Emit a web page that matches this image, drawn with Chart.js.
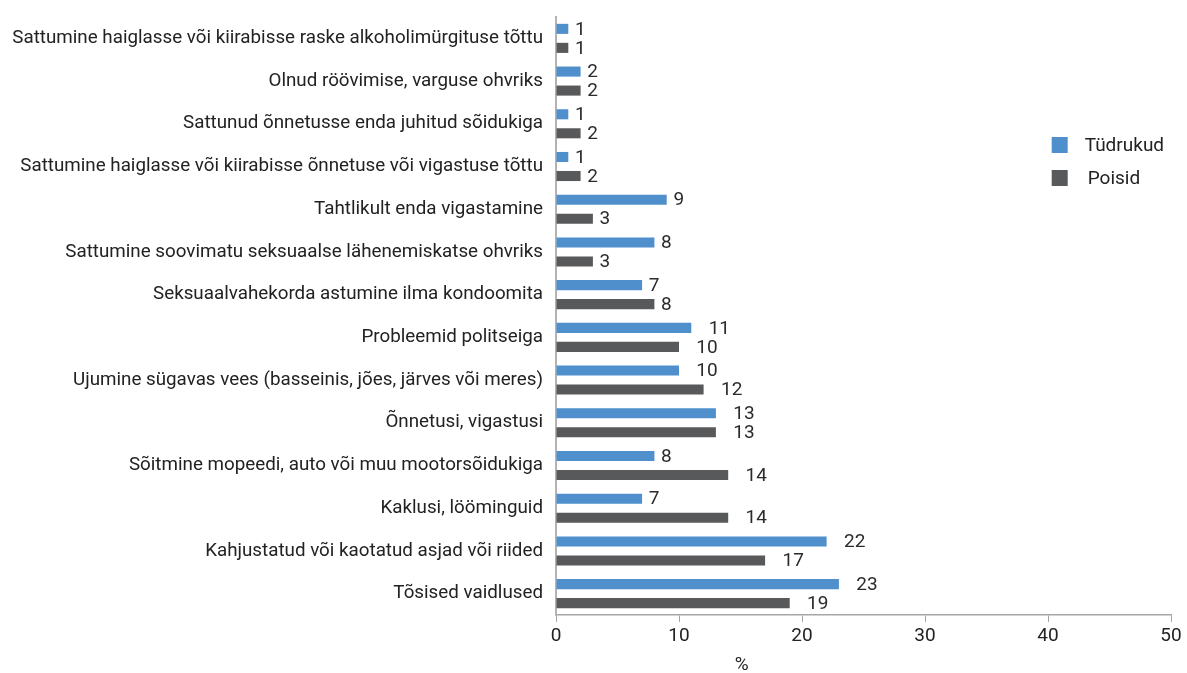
<!DOCTYPE html>
<html>
<head>
<meta charset="utf-8">
<script src="https://cdn.jsdelivr.net/npm/chart.js@4"></script>
<style>
  html, body { margin: 0; padding: 0; background: #fff; }
  #wrap { width: 1187px; height: 673px; position: relative; }
</style>
</head>
<body>
<div id="wrap"><canvas id="graph"></canvas></div>
<script>
var categories = [
    'Sattumine haiglasse või kiirabisse raske alkoholimürgituse tõttu',
    'Olnud röövimise, varguse ohvriks',
    'Sattunud õnnetusse enda juhitud sõidukiga',
    'Sattumine haiglasse või kiirabisse õnnetuse või vigastuse tõttu',
    'Tahtlikult enda vigastamine',
    'Sattumine soovimatu seksuaalse lähenemiskatse ohvriks',
    'Seksuaalvahekorda astumine ilma kondoomita',
    'Probleemid politseiga',
    'Ujumine sügavas vees (basseinis, jões, järves või meres)',
    'Õnnetusi, vigastusi',
    'Sõitmine mopeedi, auto või muu mootorsõidukiga',
    'Kaklusi, lööminguid',
    'Kahjustatud või kaotatud asjad või riided',
    'Tõsised vaidlused'
];
var girls = [1, 2, 1, 1, 9, 8, 7, 11, 10, 13, 8, 7, 22, 23];
var boys  = [1, 2, 2, 2, 3, 3, 8, 10, 12, 13, 14, 14, 17, 19];
var seriesNames = ['Tüdrukud', 'Poisid'];
var xTicks = [0, 10, 20, 30, 40, 50];
var axisTitle = '%';

var FONT = 'Roboto, "Noto Sans", sans-serif';
var BLUE = '#4f8fcc';
var GRAY = '#58595b';

// value labels at the end of each bar
var valueLabels = {
    id: 'valueLabels',
    afterDatasetsDraw: function(chart) {
        var ctx = chart.ctx;
        ctx.save();
        ctx.font = '19px ' + FONT;
        ctx.fillStyle = '#2b2b2b';
        ctx.textAlign = 'left';
        ctx.textBaseline = 'middle';
        chart.data.datasets.forEach(function(ds, i) {
            chart.getDatasetMeta(i).data.forEach(function(bar, j) {
                var txt = String(ds.data[j]);
                var w = ctx.measureText(txt).width;
                ctx.fillText(txt, bar.x + w - 4, bar.y + 1);
            });
        });
        ctx.restore();
    }
};

// legend inside the plot on the right, plus the "%" axis title
var extras = {
    id: 'extras',
    afterDraw: function(chart) {
        var ctx = chart.ctx;
        var xs = chart.scales.x;
        ctx.save();
        var colors = [BLUE, GRAY];
        var lx = xs.getPixelForValue(40.3);
        var ly = [145, 178];
        ctx.font = '19px ' + FONT;
        ctx.textBaseline = 'middle';
        ctx.textAlign = 'left';
        for (var i = 0; i < seriesNames.length; i++) {
            ctx.fillStyle = colors[i];
            ctx.fillRect(lx, ly[i] - 8, 16, 16);
            ctx.fillStyle = '#222';
            ctx.fillText(seriesNames[i], lx + 33 + (i ? 3 : 0), ly[i] + 1);
        }
        ctx.font = '19px ' + FONT;
        ctx.textAlign = 'center';
        ctx.fillStyle = '#222';
        ctx.fillText(axisTitle, xs.getPixelForValue(15.1), 665);
        ctx.restore();
    }
};

var ctx = document.getElementById('graph');
var chart = new Chart(ctx, {
    type: 'bar',
    data: {
        labels: categories,
        datasets: [
            { label: seriesNames[0], data: girls, backgroundColor: BLUE, categoryPercentage: 0.89, barPercentage: 0.53 },
            { label: seriesNames[1], data: boys,  backgroundColor: GRAY, categoryPercentage: 0.89, barPercentage: 0.53 }
        ]
    },
    options: {
        indexAxis: 'y',
        responsive: true,
        maintainAspectRatio: false,
        animation: false,
        layout: { padding: { top: 17, right: 16, bottom: 0, left: 0 } },
        plugins: {
            legend: { display: false },
            tooltip: { enabled: false }
        },
        scales: {
            x: {
                min: 0, max: 50,
                afterBuildTicks: function(scale) {
                    scale.ticks = xTicks.map(function(v) { return { value: v }; });
                },
                afterFit: function(scale) { scale.height = 58; },
                grid: { display: true, drawOnChartArea: false, drawTicks: true, tickLength: 7, color: '#a6a6a6' },
                border: { display: true, color: '#a6a6a6', width: 1.5 },
                ticks: { color: '#222', font: { family: FONT, size: 19 }, padding: 3, maxRotation: 0 }
            },
            y: {
                afterFit: function(scale) {
                    scale.width = 556;
                    scale.paddingTop = 0;
                    scale.paddingBottom = 0;
                },
                grid: { display: false, drawTicks: false },
                border: { display: true, color: '#b3b3b3', width: 2 },
                ticks: { color: '#222', font: { family: FONT, size: 18.8 }, padding: 13, autoSkip: false }
            }
        }
    },
    plugins: [valueLabels, extras]
});
</script>
</body>
</html>
